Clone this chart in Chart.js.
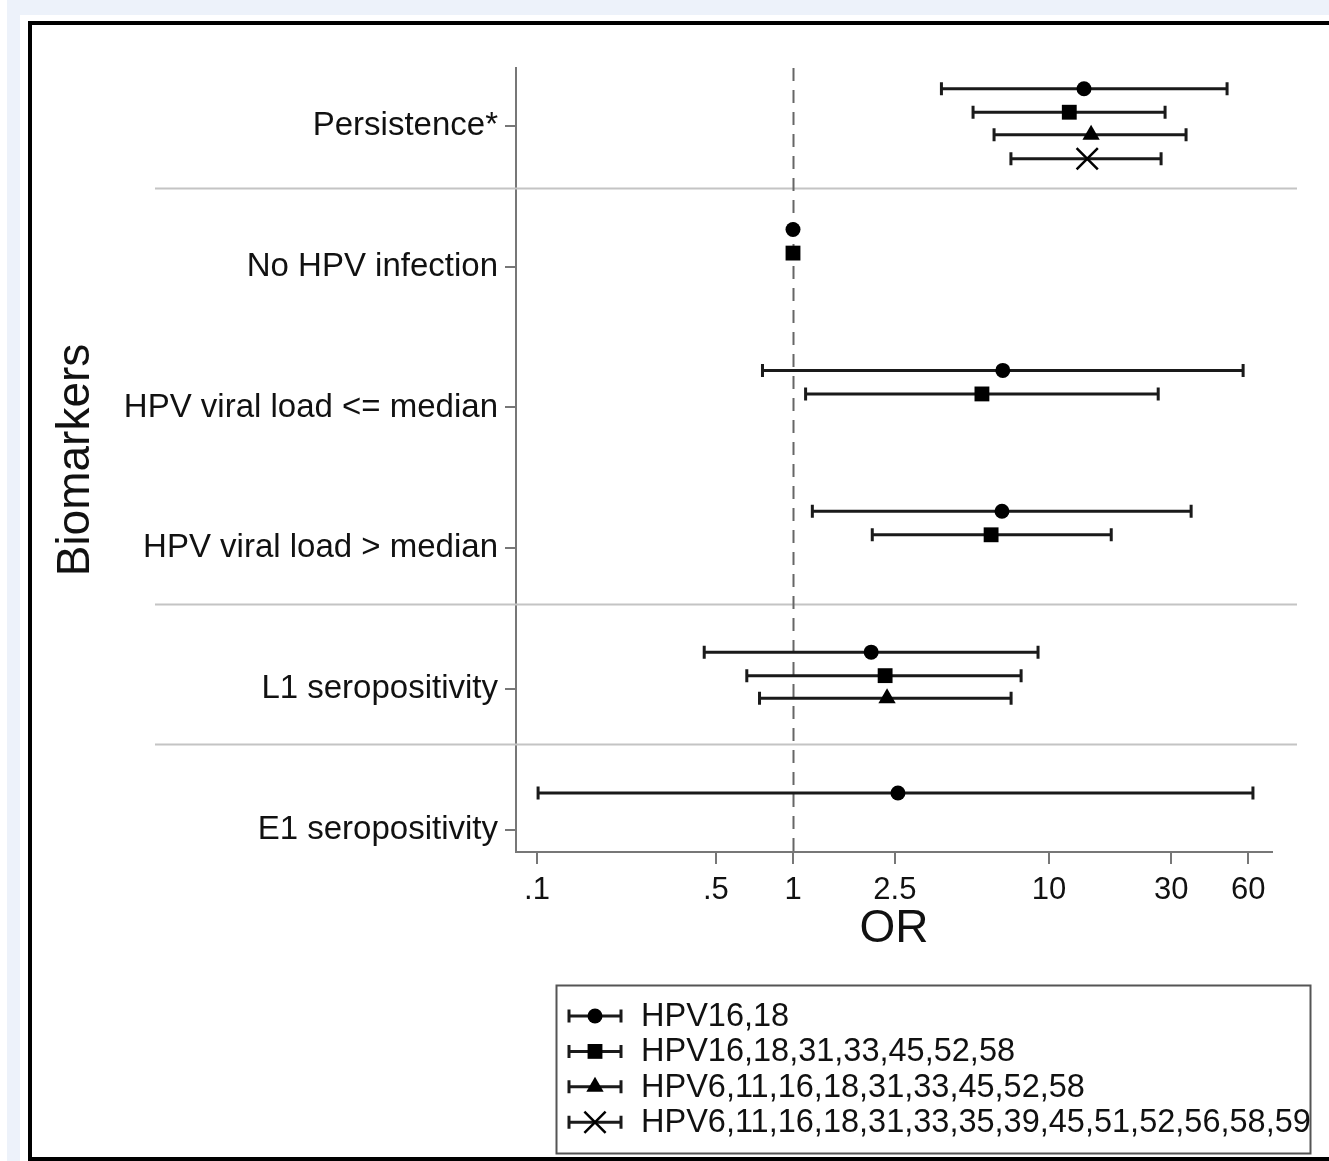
<!DOCTYPE html>
<html>
<head>
<meta charset="utf-8">
<script src="https://cdn.jsdelivr.net/npm/chart.js@4.4.1/dist/chart.umd.min.js"></script>
<style>
  html, body { margin: 0; padding: 0; }
  body { width: 1329px; height: 1161px; overflow: hidden; background: #fff; position: relative; }
  #strip { position: absolute; left: 7px; top: 0; width: 1322px; height: 1161px; background: #edf2fa; }
  #panel { position: absolute; left: 20px; top: 15px; width: 1309px; height: 1146px; background: #fff; }
  #frame { position: absolute; left: 28px; top: 21px; width: 1301px; height: 1140px; box-sizing: border-box;
           border: 4px solid #000; border-right: none; background: #fff; }
  #myChart { position: absolute; left: 32px; top: 25px; }
</style>
</head>
<body>
<div id="strip"></div>
<div id="panel"></div>
<div id="frame"></div>
<canvas id="myChart" width="1297" height="1132"></canvas>
<script>
const categories = [
  'Persistence*',
  'No HPV infection',
  'HPV viral load <= median',
  'HPV viral load > median',
  'L1 seropositivity',
  'E1 seropositivity'
];
const seriesNames = [
  'HPV16,18',
  'HPV16,18,31,33,45,52,58',
  'HPV6,11,16,18,31,33,45,52,58',
  'HPV6,11,16,18,31,33,35,39,45,51,52,56,58,59'
];
const xTickValues = [0.1, 0.5, 1, 2.5, 10, 30, 60];
const xTickLabels = ['.1', '.5', '1', '2.5', '10', '30', '60'];
// gray group separators, in category units
const separators = [0.44, 3.395, 4.39];

// OR with lower / upper CI, one value per category (null = not shown)
const orA = [13.7, 1, 6.6, 6.55, 2.02, 2.57];
const loA = [3.8, null, 0.76, 1.19, 0.45, 0.101];
const hiA = [49.6, null, 57.3, 35.9, 9.06, 62.6];
const orB = [12.0, 1, 5.47, 5.94, 2.29, null];
const loB = [5.05, null, 1.12, 2.04, 0.66, null];
const hiB = [28.4, null, 26.7, 17.5, 7.78, null];
const orC = [14.6, null, null, null, 2.33, null];
const loC = [6.1, null, null, null, 0.74, null];
const hiC = [34.3, null, null, null, 7.11, null];
const orD = [14.1, null, null, null, null, null];
const loD = [7.1, null, null, null, null, null];
const hiD = [27.4, null, null, null, null, null];

const ors = [orA, orB, orC, orD];
const los = [loA, loB, loC, loD];
const his = [hiA, hiB, hiC, hiD];

const markers = [
  { style: 'circle', r: 7.5, bw: 0 },
  { style: 'rect', r: 10.5, bw: 0 },
  { style: 'triangle', r: 10, bw: 0 },
  { style: 'crossRot', r: 15, bw: 2.5 }
];
const yOffsets = [-0.263, -0.096, 0.064, 0.234];
const font = '"Liberation Sans", Arial, sans-serif';

const datasets = seriesNames.map((name, s) => ({
  label: name,
  data: ors[s].map((v, i) => v == null ? null : { x: v, y: i + yOffsets[s], lo: los[s][i], hi: his[s][i] })
              .filter(p => p),
  pointStyle: markers[s].style,
  pointRadius: markers[s].r,
  pointHoverRadius: markers[s].r,
  pointBackgroundColor: '#000',
  pointBorderColor: '#000',
  pointBorderWidth: markers[s].bw
}));

const decor = {
  id: 'decor',
  beforeDatasetsDraw(chart) {
    const { ctx, chartArea, scales } = chart;
    ctx.save();
    // separators
    ctx.strokeStyle = '#c4c4c4';
    ctx.lineWidth = 2;
    separators.forEach(v => {
      const y = Math.round(scales.y.getPixelForValue(v)) + 0.5;
      ctx.beginPath();
      ctx.moveTo(chartArea.left - 361, y);
      ctx.lineTo(chartArea.right + 25, y);
      ctx.stroke();
    });
    // reference line at OR = 1
    const x1 = Math.round(scales.x.getPixelForValue(1)) + 0.5;
    ctx.strokeStyle = '#666';
    ctx.lineWidth = 2;
    ctx.setLineDash([13, 9]);
    ctx.beginPath();
    ctx.moveTo(x1, chartArea.top);
    ctx.lineTo(x1, chartArea.bottom);
    ctx.stroke();
    ctx.setLineDash([]);
    // error bars
    ctx.strokeStyle = '#1a1a1a';
    ctx.lineWidth = 3;
    chart.data.datasets.forEach(ds => {
      ds.data.forEach(p => {
        if (p.lo == null) return;
        const y = scales.y.getPixelForValue(p.y);
        const a = scales.x.getPixelForValue(p.lo);
        const b = scales.x.getPixelForValue(p.hi);
        ctx.beginPath();
        ctx.moveTo(a, y); ctx.lineTo(b, y);
        ctx.moveTo(a, y - 6.5); ctx.lineTo(a, y + 6.5);
        ctx.moveTo(b, y - 6.5); ctx.lineTo(b, y + 6.5);
        ctx.stroke();
      });
    });
    ctx.restore();
  },
  afterDraw(chart) {
    const { ctx } = chart;
    ctx.save();
    // legend box
    const bx = 524, by = 960, bw = 754, bh = 168;
    ctx.strokeStyle = '#555';
    ctx.lineWidth = 2;
    ctx.strokeRect(bx + 0.5, by + 0.5, bw, bh);
    seriesNames.forEach((name, s) => {
      const y = 991 + s * 35.4;
      ctx.strokeStyle = '#1a1a1a';
      ctx.lineWidth = 3;
      ctx.beginPath();
      ctx.moveTo(536, y); ctx.lineTo(590, y);
      ctx.moveTo(537, y - 6.5); ctx.lineTo(537, y + 6.5);
      ctx.moveTo(589, y - 6.5); ctx.lineTo(589, y + 6.5);
      ctx.stroke();
      ctx.fillStyle = '#000';
      ctx.strokeStyle = '#000';
      ctx.lineWidth = markers[s].bw;
      Chart.helpers.drawPoint(ctx, { pointStyle: markers[s].style, radius: markers[s].r, borderWidth: markers[s].bw, rotation: 0 }, 563, y);
      ctx.fillStyle = '#111';
      ctx.font = '32.5px ' + font;
      ctx.textBaseline = 'middle';
      ctx.fillText(name, 609, y + 1);
    });
    ctx.restore();
  }
};

const ctx = document.getElementById('myChart').getContext('2d');
const myChart = new Chart(ctx, {
  type: 'scatter',
  data: { datasets: datasets },
  options: {
    responsive: false,
    animation: false,
    layout: { padding: { top: 43, right: 57, bottom: 180, left: 0 } },
    plugins: { legend: { display: false }, tooltip: { enabled: false } },
    scales: {
      x: {
        type: 'logarithmic',
        min: 0.0828,
        max: 74.3,
        afterBuildTicks: s => { s.ticks = xTickValues.map(v => ({ value: v })); },
        afterFit: s => { s.height = 125; },
        ticks: {
          autoSkip: false,
          maxRotation: 0,
          padding: 8,
          color: '#111',
          font: { family: font, size: 31 },
          callback: (v) => xTickLabels[xTickValues.indexOf(v)]
        },
        grid: { drawOnChartArea: false, drawTicks: true, tickLength: 12, color: '#777', lineWidth: 2 },
        border: { color: '#777', width: 2 },
        title: { display: true, text: 'OR', color: '#111', font: { family: font, size: 46 }, padding: { top: 0, bottom: 20 } }
      },
      y: {
        type: 'linear',
        reverse: true,
        min: -0.41,
        max: 5.156,
        afterBuildTicks: s => { s.ticks = categories.map((c, i) => ({ value: i })); },
        afterFit: s => { s.width = 484; },
        ticks: {
          autoSkip: false,
          padding: 7,
          color: '#111',
          font: { family: font, size: 33 },
          callback: (v) => categories[v]
        },
        grid: { drawOnChartArea: false, drawTicks: true, tickLength: 11, color: '#777', lineWidth: 2 },
        border: { color: '#777', width: 2 },
        title: { display: true, text: 'Biomarkers', color: '#111', font: { family: font, size: 46 }, padding: { top: 17, bottom: 0 } }
      }
    }
  },
  plugins: [decor]
});
</script>
</body>
</html>
